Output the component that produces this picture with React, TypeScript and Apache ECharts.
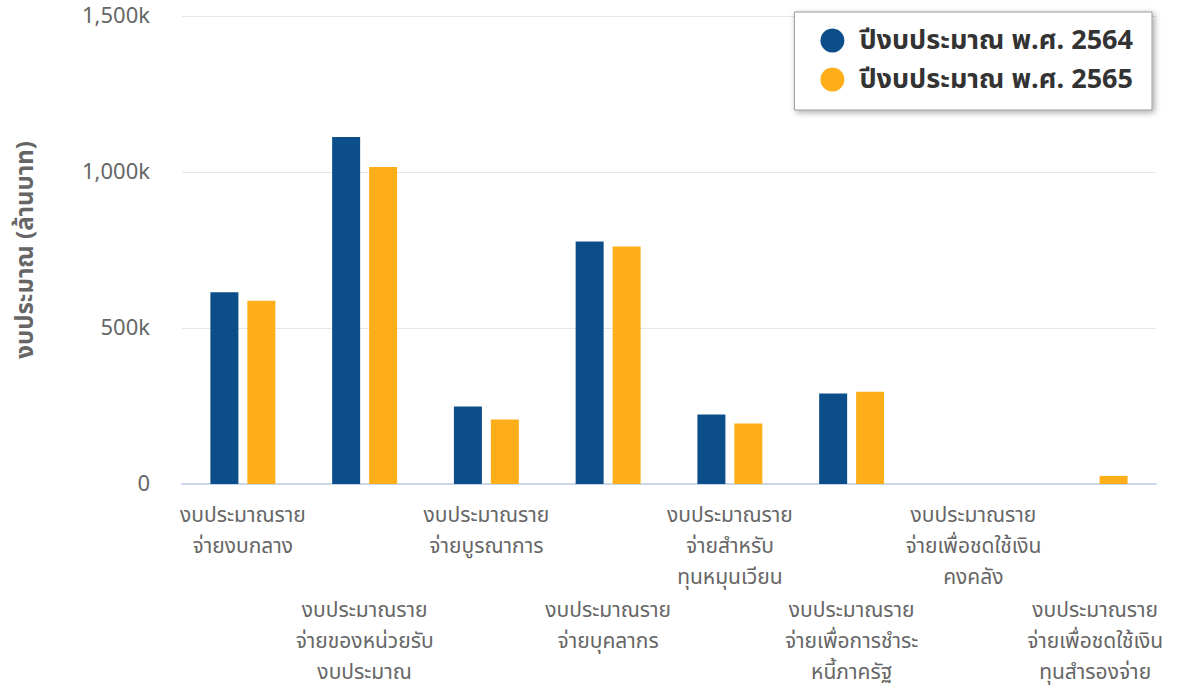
import React, { useEffect, useRef } from "react";
import * as echarts from "echarts";

const categories = [
  "งบประมาณราย\nจ่ายงบกลาง",
  "งบประมาณราย\nจ่ายของหน่วยรับ\nงบประมาณ",
  "งบประมาณราย\nจ่ายบูรณาการ",
  "งบประมาณราย\nจ่ายบุคลากร",
  "งบประมาณราย\nจ่ายสำหรับ\nทุนหมุนเวียน",
  "งบประมาณราย\nจ่ายเพื่อการชำระ\nหนี้ภาครัฐ",
  "งบประมาณราย\nจ่ายเพื่อชดใช้เงิน\nคงคลัง",
  "งบประมาณราย\nจ่ายเพื่อชดใช้เงิน\nทุนสำรองจ่าย",
];
const seriesNames = ["ปีงบประมาณ พ.ศ. 2564", "ปีงบประมาณ พ.ศ. 2565"];
const values2564 = [614616, 1112000, 248000, 777000, 223000, 290000, 0, 0];
const values2565 = [587410, 1016000, 207000, 761000, 194000, 296000, 0, 26000];
const yTicks = { min: 0, max: 1500000, interval: 500000 };
const yAxisName = "งบประมาณ (ล้านบาท)";

const FONT = "Tahoma, 'Noto Sans Thai', 'Noto Sans', sans-serif";

const labelBase = {
  interval: 0,
  color: "#666",
  fontSize: 21,
  lineHeight: 31,
  fontFamily: FONT,
};

export default function App() {
  const ref = useRef<HTMLDivElement>(null);
  useEffect(() => {
    if (!ref.current) return;
    const chart = echarts.init(ref.current, undefined, { renderer: "svg" });
    chart.setOption({
      animation: false,
      textStyle: { fontFamily: FONT },
      grid: { left: 182, right: 22, top: 14, bottom: 206, containLabel: false },
      legend: {
        orient: "vertical",
        right: 26,
        top: 12,
        icon: "circle",
        itemWidth: 24,
        itemHeight: 24,
        itemGap: 12,
        padding: [15, 19, 17, 26],
        backgroundColor: "#fff",
        borderColor: "#999",
        borderWidth: 1,
        shadowBlur: 6,
        shadowColor: "rgba(0,0,0,0.35)",
        shadowOffsetX: 2,
        shadowOffsetY: 2,
        textStyle: {
          fontSize: 27,
          color: "#333",
          fontWeight: "bold",
          fontFamily: FONT,
          padding: [0, 0, 0, 10],
        },
        data: seriesNames,
      },
      xAxis: [
        {
          type: "category",
          data: categories,
          axisLine: { lineStyle: { color: "#ccd6eb", width: 2 } },
          axisTick: { show: false },
          axisLabel: {
            ...labelBase,
            margin: 16,
            formatter: (v: string, i: number) => (i % 2 === 0 ? v : ""),
          },
        },
        {
          type: "category",
          position: "bottom",
          offset: 0,
          data: categories,
          axisLine: { show: false },
          axisTick: { show: false },
          axisLabel: {
            ...labelBase,
            margin: 111,
            formatter: (v: string, i: number) => (i % 2 === 1 ? v : ""),
          },
        },
      ],
      yAxis: {
        type: "value",
        min: yTicks.min,
        max: yTicks.max,
        interval: yTicks.interval,
        name: yAxisName,
        nameLocation: "middle",
        nameGap: 144,
        nameRotate: 90,
        nameTextStyle: { color: "#666", fontSize: 24, fontWeight: "bold", fontFamily: FONT },
        axisLine: { show: false },
        axisTick: { show: false },
        splitLine: { lineStyle: { color: "#e6e6e6", width: 1 } },
        axisLabel: {
          color: "#666",
          fontSize: 22,
          lineHeight: 22,
          margin: 32,
          padding: [10, 0, 0, 0],
          fontFamily: FONT,
          formatter: (v: number) => (v === 0 ? "0" : (v / 1000).toLocaleString("en-US") + "k"),
        },
      },
      series: [
        {
          name: seriesNames[0],
          type: "bar",
          xAxisIndex: 0,
          data: values2564,
          barWidth: 28,
          barGap: "32%",
          itemStyle: { color: "#0c4e8a" },
        },
        {
          name: seriesNames[1],
          type: "bar",
          xAxisIndex: 0,
          data: values2565,
          barWidth: 28,
          itemStyle: { color: "#fdae19" },
        },
      ],
    });
    return () => chart.dispose();
  }, []);
  return (
    <div
      ref={ref}
      style={{ position: "fixed", left: 0, top: 0, width: 1178, height: 690, background: "#fff" }}
    />
  );
}
